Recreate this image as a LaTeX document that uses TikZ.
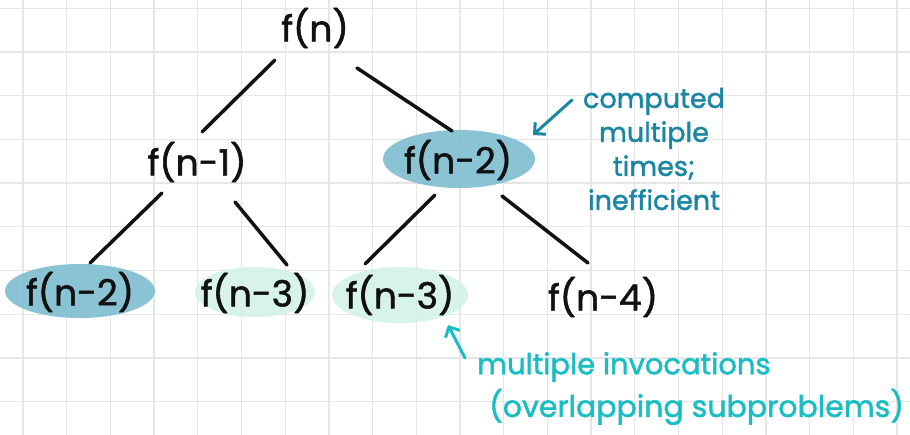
\documentclass[tikz,border=0pt]{standalone}
\usepackage{fontspec}
\setmainfont{Poppins}[BoldFont=Poppins, BoldFeatures={FakeBold=1.5}]
\usetikzlibrary{arrows.meta,calc,backgrounds}
\definecolor{gridc}{HTML}{E6E6E6}
\definecolor{hidark}{HTML}{7DBDD0}
\definecolor{hipale}{HTML}{D4F1EA}
\definecolor{noteblue}{HTML}{1A86A3}
\definecolor{notecyan}{HTML}{18BEC4}
\definecolor{ink}{HTML}{111111}
\begin{document}
\begin{tikzpicture}[x=1pt,y=-1pt,
  lbl/.style={font=\fontsize{36}{36}\selectfont\bfseries, text=ink, inner sep=0pt},
  hldark/.style={fill=hidark, fill opacity=0.9},
  hlpale/.style={fill=hipale, fill opacity=0.9},
  link/.style={draw=ink, line width=3.5pt, line cap=round},
  note/.style={line width=3pt, line cap=round, -{Straight Barb[length=8pt,width=16pt]}},
  gridline/.style={draw=gridc, line width=1.3pt}]
\useasboundingbox (0,0) rectangle (910,435);

\node[lbl] (n0) at (315,28) {f(n)};
\node[lbl] (n1) at (197,162) {f(n-1)};
\node[lbl] (n2) at (458,160) {f(n-2)};
\node[lbl] (n3) at (80,292) {f(n-2)};
\node[lbl] (n4) at (255,293) {f(n-3)};
\node[lbl] (n5) at (400,295) {f(n-3)};
\node[lbl] (n6) at (603,297) {f(n-4)};

\begin{scope}[on background layer]
\fill[white] (0,0) rectangle (910,435);
\foreach \i in {0,...,20} \draw[gridline] ({23+43.7*\i},0) -- ({23+43.7*\i},435);
\foreach \j in {0,...,9} \draw[gridline] (0,{8.3+43.7*\j}) -- (910,{8.3+43.7*\j});
\fill[hldark] ($(n2)+(1,-1)$) ellipse [x radius=76, y radius=29];
\fill[hldark] ($(n3)+(0,-1)$) ellipse [x radius=75, y radius=27];
\fill[hlpale] ($(n4)+(0,-1)$) ellipse [x radius=60, y radius=25];
\fill[hlpale] ($(n5)+(0,0)$) ellipse [x radius=68, y radius=28];
\end{scope}

\draw[link] ($(n0)+(-40,32)$) -- ($(n1)+(5,-30)$);
\draw[link] ($(n0)+(42,40)$) -- ($(n2)+(-6,-29)$);
\draw[link] ($(n1)+(-35,31)$) -- ($(n3)+(10,-29)$);
\draw[link] ($(n1)+(38,40)$) -- ($(n4)+(32,-28)$);
\draw[link] ($(n2)+(-23,35)$) -- ($(n5)+(-35,-31)$);
\draw[link] ($(n2)+(44,36)$) -- ($(n6)+(-15,-34)$);

\node[font=\fontsize{27}{34}\selectfont\bfseries, text=noteblue, align=center, inner sep=0pt] (c1) at (654,149) {computed\\multiple\\times;\\inefficient};
\coordinate (a1) at (572,100);
\draw[note, noteblue] (a1) -- ($(n2)+(75,-25)$);

\node[font=\fontsize{29}{40}\selectfont\bfseries, text=notecyan, anchor=west, inner sep=0pt] (c2) at (477,367) {multiple invocations};
\node[font=\fontsize{30}{40}\selectfont\bfseries, text=notecyan, anchor=west, inner sep=0pt] (c3) at (489,407) {(overlapping subproblems)};
\coordinate (a2) at (465,358);
\draw[note, notecyan] (a2) -- ($(n5)+(48,30)$);
\end{tikzpicture}
\end{document}
